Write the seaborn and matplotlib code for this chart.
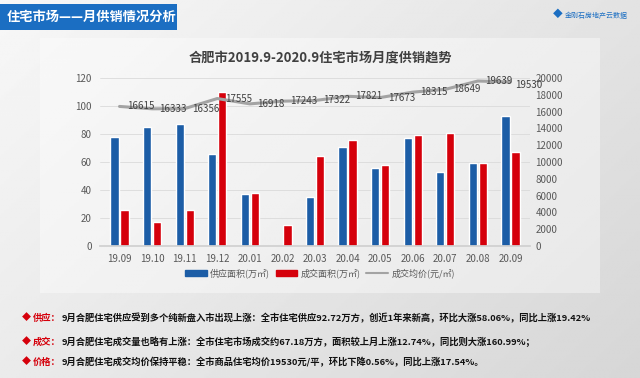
import numpy as np
import pandas as pd
import matplotlib.pyplot as plt
import seaborn as sns
from matplotlib.patches import Rectangle

# data
months = ['19.09', '19.10', '19.11', '19.12', '20.01', '20.02', '20.03',
          '20.04', '20.05', '20.06', '20.07', '20.08', '20.09']
supply = [78, 85, 87, 66, 37, 0, 35, 71, 56, 77, 53, 59, 92.72]
sales = [26, 17, 26, 110, 38, 15, 64, 76, 57.6, 79, 80.5, 59.6, 67.18]
price = [16615, 16333, 16356, 17555, 16918, 17243, 17322, 17821, 17673,
         18315, 18649, 19639, 19530]
series_names = ['供应面积(万㎡)', '成交面积(万㎡)', '成交均价(元/㎡)']

blue = '#1C5DA6'
red = '#D5000B'
grey = '#A3A3A3'

sns.set_theme(style='white')
plt.rcParams['font.family'] = ['Noto Sans CJK SC', 'DejaVu Sans']

fig = plt.figure(figsize=(6.4, 3.78), dpi=100)

# background gradient
bg = fig.add_axes([0, 0, 1, 1], zorder=-10)
gx = np.linspace(0, 1, 256)
gy = np.linspace(0, 1, 256)
img = 0.84 + 0.08 * (1 - gx)[None, :] + 0.05 * gy[:, None]
bg.imshow(img, cmap='gray', vmin=0, vmax=1, aspect='auto', extent=[0, 1, 0, 1], origin='lower')
bg.add_patch(Rectangle((40 / 640, 85 / 378), 560 / 640, 255 / 378, facecolor='white',
                       alpha=0.4, edgecolor='none'))
bg.add_patch(Rectangle((0, 348 / 378), 177 / 640, 26 / 378, facecolor='#1B6EC2', edgecolor='none'))
bg.text(7 / 640, 361 / 378, '住宅市场——月供销情况分析', color='white', fontsize=9.5,
        fontweight='bold', va='center', ha='left')
bg.text(558 / 640, 364 / 378, '◆', color='#1B6EC2', fontsize=7, va='center', ha='center')
bg.text(565 / 640, 362 / 378, '金刚石房地产云数据', color='#1B6EC2', fontsize=5,
        va='center', ha='left')
bg.set_xlim(0, 1)
bg.set_ylim(0, 1)
bg.axis('off')

# bar chart
df = pd.DataFrame({'月份': months * 2,
                   '面积': supply + sales,
                   '类型': [series_names[0]] * 13 + [series_names[1]] * 13})

ax = fig.add_axes([100 / 640, 132 / 378, 430 / 640, 168 / 378])
sns.barplot(data=df, x='月份', y='面积', hue='类型', palette=[blue, red],
            width=0.62, gap=0.18, ax=ax, legend=False, saturation=1)
ax.set_ylim(0, 120)
ax.set_yticks(range(0, 121, 20))
ax.set_xlim(-0.6, 12.6)
ax.yaxis.grid(True, color='#DADADA', linewidth=0.6)
ax.set_axisbelow(True)
ax.set_facecolor('none')
for s in ax.spines.values():
    s.set_visible(False)
ax.spines['bottom'].set_visible(True)
ax.spines['bottom'].set_color('#D0D0D0')
ax.set_xlabel('')
ax.set_ylabel('')
ax.tick_params(axis='both', labelsize=7, colors='#595959', length=0, pad=6)

# price line on right axis
ax2 = ax.twinx()
sns.lineplot(x=np.arange(len(months)), y=price, color=grey, linewidth=2.2, ax=ax2)
ax2.set_ylim(0, 20000)
ax2.set_yticks(range(0, 20001, 2000))
ax2.tick_params(axis='y', labelsize=7, colors='#595959', length=0, pad=4)
for s in ax2.spines.values():
    s.set_visible(False)
ax2.set_ylabel('')
for i, p in enumerate(price):
    dx = 0.65 if i < len(price) - 1 else 0.55
    dy = 0 if i < len(price) - 1 else -350
    ax2.text(i + dx, p + dy, str(p), fontsize=7, color='#404040', ha='center', va='center')

fig.text(0.5, 320 / 378, '合肥市2019.9-2020.9住宅市场月度供销趋势', fontsize=9.5,
         fontweight='bold', color='#404040', ha='center', va='center')

# legend
handles = [Rectangle((0, 0), 1, 1, color=blue), Rectangle((0, 0), 1, 1, color=red),
           plt.Line2D([0], [0], color=grey, linewidth=1.5)]
fig.legend(handles, series_names, loc='center', bbox_to_anchor=(0.5, 105 / 378), ncol=3,
           frameon=False, fontsize=6.5, handlelength=2.4, handleheight=0.6,
           columnspacing=0.6, handletextpad=0.4, labelcolor='#595959')

# bottom notes
notes = [
    ('供应：', '9月合肥住宅供应受到多个纯新盘入市出现上涨：全市住宅供应92.72万方，创近1年来新高，环比大涨58.06%，同比上涨19.42%', 318),
    ('成交：', '9月合肥住宅成交量也略有上涨：全市住宅市场成交约67.18万方，面积较上月上涨12.74%，同比则大涨160.99%；', 342),
    ('价格：', '9月合肥住宅成交均价保持平稳：全市商品住宅均价19530元/平，环比下降0.56%，同比上涨17.54%。', 362),
]
for label, body, y in notes:
    yy = 1 - y / 378
    fig.text(26 / 640, yy, '◆', color=red, fontsize=6.5, ha='center', va='center')
    fig.text(33 / 640, yy, label, color=red, fontsize=6.7, fontweight='bold', ha='left', va='center')
    fig.text(62 / 640, yy, body, color='#111111', fontsize=6.7, fontweight='bold', ha='left', va='center')

fig.savefig('out.png', dpi=100)
